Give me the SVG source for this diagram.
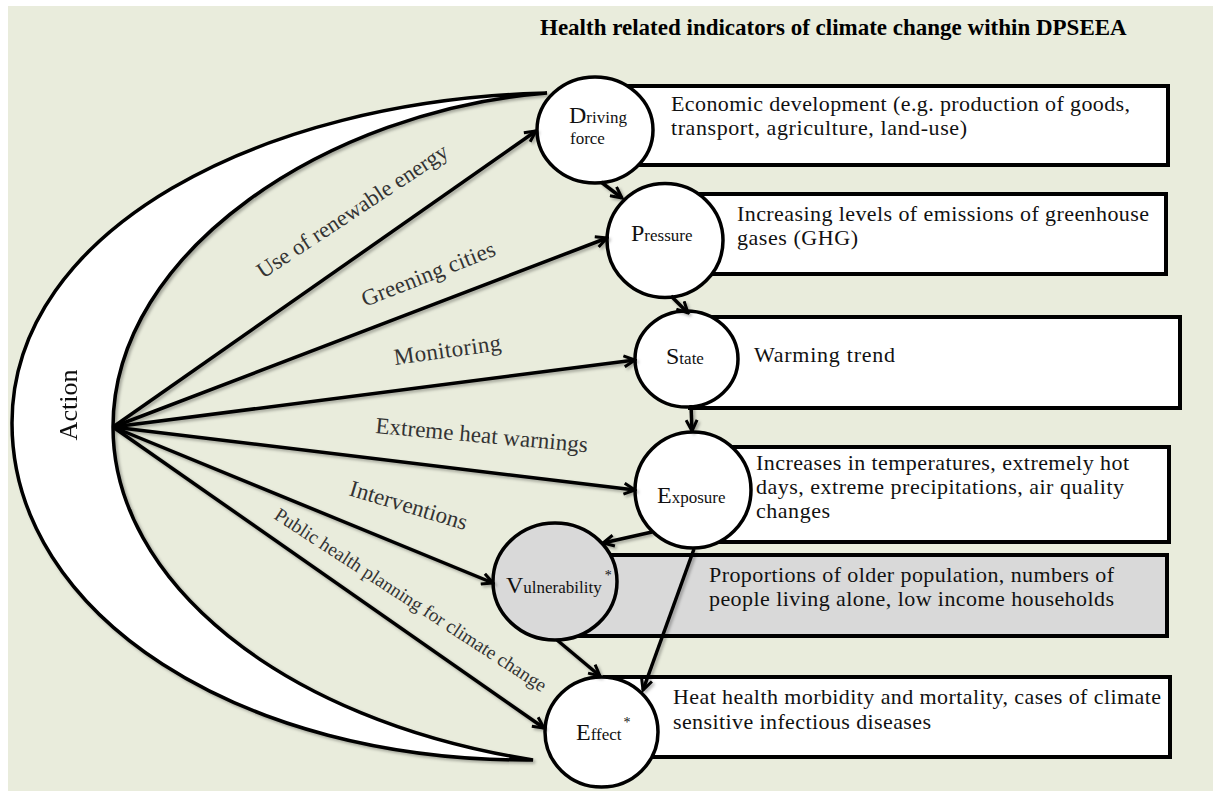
<svg xmlns="http://www.w3.org/2000/svg" width="1219" height="796" viewBox="0 0 1219 796">
<defs>
<style>
.bg{fill:#e9ecdc}
.box{fill:#fff;stroke:#000;stroke-width:4}
.gbox{fill:#d9d9d9;stroke:#000;stroke-width:4}
.circ{fill:#fff;stroke:#000;stroke-width:3.5}
.gcirc{fill:#d9d9d9;stroke:#000;stroke-width:3.5}
.t{font-family:"Liberation Serif","Times New Roman",serif;fill:#111;font-size:22px}
.lab{font-family:"Liberation Serif","Times New Roman",serif;fill:#333;font-size:23px}
.big{font-size:24px}
.sm{font-size:17px}
.ast{font-size:14px}
.title{font-family:"Liberation Serif","Times New Roman",serif;font-weight:bold;font-size:23px;fill:#000}
.con{fill:none;stroke:#000;stroke-width:3.5;marker-end:url(#arr)}
</style>
<marker id="arr" viewBox="0 0 14 14" refX="12" refY="7" markerWidth="14" markerHeight="14" orient="auto" markerUnits="userSpaceOnUse">
<path d="M1,1.5 L12,7 L1,12.5" fill="none" stroke="#000" stroke-width="3"/>
</marker>
<filter id="sh" x="-10%" y="-10%" width="120%" height="120%">
<feDropShadow dx="2" dy="2" stdDeviation="1.5" flood-color="#000" flood-opacity="0.3"/>
</filter>
</defs>
<rect x="0" y="0" width="1219" height="796" fill="#fff"/>
<rect class="bg" x="8" y="6" width="1205" height="785"/>
<text class="title" x="540" y="35">Health related indicators of climate change within DPSEEA</text>

<g id="action" filter="url(#sh)">
<path d="M547,93 C260,100 12,230 12,423 C12,615 240,762 533,760 C280,720 113,580 113,427 C113,250 330,110 547,93 Z" fill="#fff" stroke="#000" stroke-width="3.5"/>
<text class="t" transform="translate(77,405) rotate(-90)" text-anchor="middle" style="font-size:26px">Action</text>
</g>

<g id="node-driving-force">
<rect class="box" x="600" y="86" width="568" height="79"/>
<ellipse class="circ" cx="595" cy="130" rx="58" ry="53"/>
<text class="t" x="569" y="123"><tspan class="big">D</tspan><tspan class="sm">riving</tspan></text>
<text class="t sm" x="570" y="144">force</text>
<text class="t" x="671" y="111" textLength="459">Economic development (e.g. production of goods,</text>
<text class="t" x="671" y="135" textLength="296">transport, agriculture, land-use)</text>
</g>

<g id="node-pressure">
<rect class="box" x="670" y="194" width="496" height="80"/>
<ellipse class="circ" cx="665" cy="240.5" rx="58" ry="57"/>
<text class="t" x="631" y="241"><tspan class="big">P</tspan><tspan class="sm">ressure</tspan></text>
<text class="t" x="737" y="221" textLength="412">Increasing levels of emissions of greenhouse</text>
<text class="t" x="737" y="245" textLength="121">gases (GHG)</text>
</g>

<g id="node-state">
<rect class="box" x="690" y="317" width="490" height="91"/>
<ellipse class="circ" cx="686.5" cy="359" rx="51.5" ry="48"/>
<text class="t" x="666" y="364"><tspan class="big">S</tspan><tspan class="sm">tate</tspan></text>
<text class="t" x="754" y="362" textLength="141">Warming trend</text>
</g>

<g id="node-exposure">
<rect class="box" x="700" y="447" width="469" height="95"/>
<ellipse class="circ" cx="693" cy="490" rx="58" ry="58"/>
<text class="t" x="657" y="503"><tspan class="big">E</tspan><tspan class="sm">xposure</tspan></text>
<text class="t" x="756" y="470" textLength="373">Increases in temperatures, extremely hot</text>
<text class="t" x="756" y="494" textLength="368">days, extreme precipitations, air quality</text>
<text class="t" x="756" y="518" textLength="74">changes</text>
</g>

<g id="node-vulnerability">
<rect class="gbox" x="560" y="555" width="607" height="81"/>
<ellipse class="gcirc" cx="555" cy="581.5" rx="62" ry="58.5"/>
<text class="t" x="506" y="593"><tspan class="big">V</tspan><tspan class="sm">ulnerability</tspan><tspan class="ast" dx="3" dy="-13">*</tspan></text>
<text class="t" x="709" y="582" textLength="405">Proportions of older population, numbers of</text>
<text class="t" x="709" y="606" textLength="405">people living alone, low income households</text>
</g>

<g id="node-effect">
<rect class="box" x="605" y="677" width="565" height="80"/>
<ellipse class="circ" cx="601.5" cy="732" rx="56.5" ry="55"/>
<text class="t" x="576" y="740"><tspan class="big">E</tspan><tspan class="sm">ffect</tspan><tspan class="ast" dx="2" dy="-13">*</tspan></text>
<text class="t" x="673" y="704" textLength="488">Heat health morbidity and mortality, cases of climate</text>
<text class="t" x="673" y="729" textLength="258">sensitive infectious diseases</text>
</g>

<g id="connectors" filter="url(#sh)">
<line class="con" x1="113" y1="427" x2="536" y2="131"/>
<line class="con" x1="113" y1="427" x2="607" y2="238"/>
<line class="con" x1="113" y1="427" x2="635" y2="360"/>
<line class="con" x1="113" y1="427" x2="635" y2="490"/>
<line class="con" x1="113" y1="427" x2="493" y2="583"/>
<line class="con" x1="113" y1="427" x2="544" y2="728"/>
<line class="con" x1="601" y1="182" x2="622" y2="198"/>
<line class="con" x1="671" y1="296" x2="688" y2="313"/>
<line class="con" x1="691" y1="405" x2="692" y2="431"/>
<line class="con" x1="652" y1="532" x2="603" y2="543"/>
<line class="con" x1="694" y1="549" x2="643" y2="690"/>
<line class="con" x1="557" y1="640" x2="600" y2="676"/>
</g>

<g id="edge-labels">
<text class="lab" transform="translate(263,279) rotate(-33.5)" textLength="224" style="font-size:22.5px">Use of renewable energy</text>
<text class="lab" transform="translate(365,307) rotate(-21.5)" textLength="142">Greening cities</text>
<text class="lab" transform="translate(395,365) rotate(-8)" textLength="108">Monitoring</text>
<text class="lab" transform="translate(375,433) rotate(5.2)" textLength="213">Extreme heat warnings</text>
<text class="lab" transform="translate(348,495) rotate(16.7)" textLength="122">Interventions</text>
<text class="lab" transform="translate(273,518) rotate(33)" textLength="320" style="font-size:19.2px">Public health planning for climate change</text>
</g>
</svg>
